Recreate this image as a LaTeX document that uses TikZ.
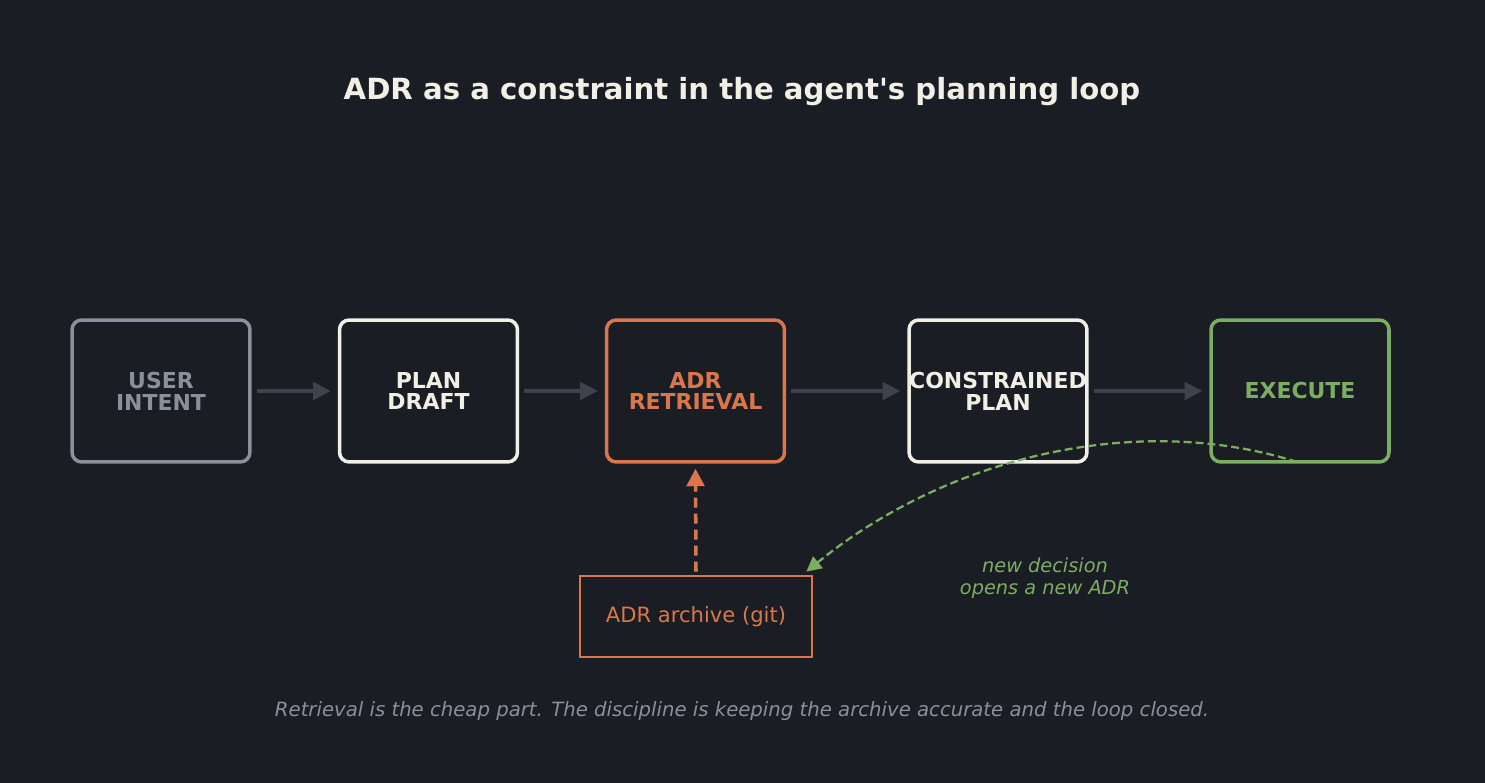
\documentclass[tikz,border=0pt]{standalone}
\usepackage{fontspec}
\setmainfont{DejaVu Sans}
\usepackage{tikz}
\usetikzlibrary{arrows.meta}

\definecolor{bgdark}{HTML}{1B1D24}
\definecolor{cream}{HTML}{F2EFE6}
\definecolor{slate}{HTML}{8A8F9C}
\definecolor{rust}{HTML}{D9774A}
\definecolor{sage}{HTML}{7BAE62}
\definecolor{wire}{HTML}{3E424D}

\begin{document}
\begin{tikzpicture}[x=0.02cm, y=-0.02cm,
  stage/.style={rectangle, rounded corners=5.5pt, draw, line width=2pt, fill=bgdark,
    minimum width=3.56cm, minimum height=2.84cm, align=center, inner sep=0pt,
    font=\fontsize{12.5}{12.5}\selectfont\bfseries},
  flow/.style={-{Triangle[length=10pt, width=10pt]}, draw=wire, line width=2pt}]
  \fill[bgdark] (0,0) rectangle (1485,783);
  \node (title) [text=cream, font=\fontsize{16.6}{19}\selectfont\bfseries] at (742,92) {ADR as a constraint in the agent\textquotesingle s planning loop};
  \node (user) [stage, draw=slate, text=slate] at (161,391) {USER\\INTENT};
  \node (draft) [stage, draw=cream, text=cream] at (428.5,391) {PLAN\\DRAFT};
  \node (retrieval) [stage, draw=rust, text=rust] at (695.5,391) {ADR\\RETRIEVAL};
  \node (constrained) [stage, draw=cream, text=cream] at (998,391) {CONSTRAINED\\PLAN};
  \node (execute) [stage, draw=sage, text=sage] at (1300,391) {EXECUTE};
  \node (archive) [rectangle, draw=rust, line width=1.6pt, text=rust, minimum width=4.64cm, minimum height=1.62cm,
    font=\fontsize{12}{14}\selectfont] at (696,616.5) {ADR archive (git)};
  \draw[flow] ([xshift=2.8pt]user.east) -- ([xshift=-4pt]draft.west);
  \draw[flow] ([xshift=2.8pt]draft.east) -- ([xshift=-4pt]retrieval.west);
  \draw[flow] ([xshift=2.8pt]retrieval.east) -- ([xshift=-4pt]constrained.west);
  \draw[flow] ([xshift=2.8pt]constrained.east) -- ([xshift=-4pt]execute.west);
  \draw[rust, line width=2pt, dash pattern=on 5.7pt off 3.4pt, -{Triangle[length=10pt, width=10pt]}]
    ([yshift=1.7pt]archive.north) -- ([yshift=-2.8pt]retrieval.south);
  \draw[sage, line width=1.3pt, dash pattern=on 4.5pt off 2.3pt, -{Triangle[length=8.5pt, width=8.5pt]}]
    ([xshift=-1.7pt, yshift=1pt]execute.south) .. controls (1140,412) and (950,455) .. ([xshift=-4pt, yshift=1.7pt]archive.north east);
  \node (note) [text=sage, align=center, font=\fontsize{11}{12.5}\selectfont\itshape] at (1045,578) {new decision\\opens a new ADR};
  \node (caption) [text=slate, font=\fontsize{11.2}{13}\selectfont\itshape] at (742,711) {Retrieval is the cheap part. The discipline is keeping the archive accurate and the loop closed.};
\end{tikzpicture}
\end{document}
